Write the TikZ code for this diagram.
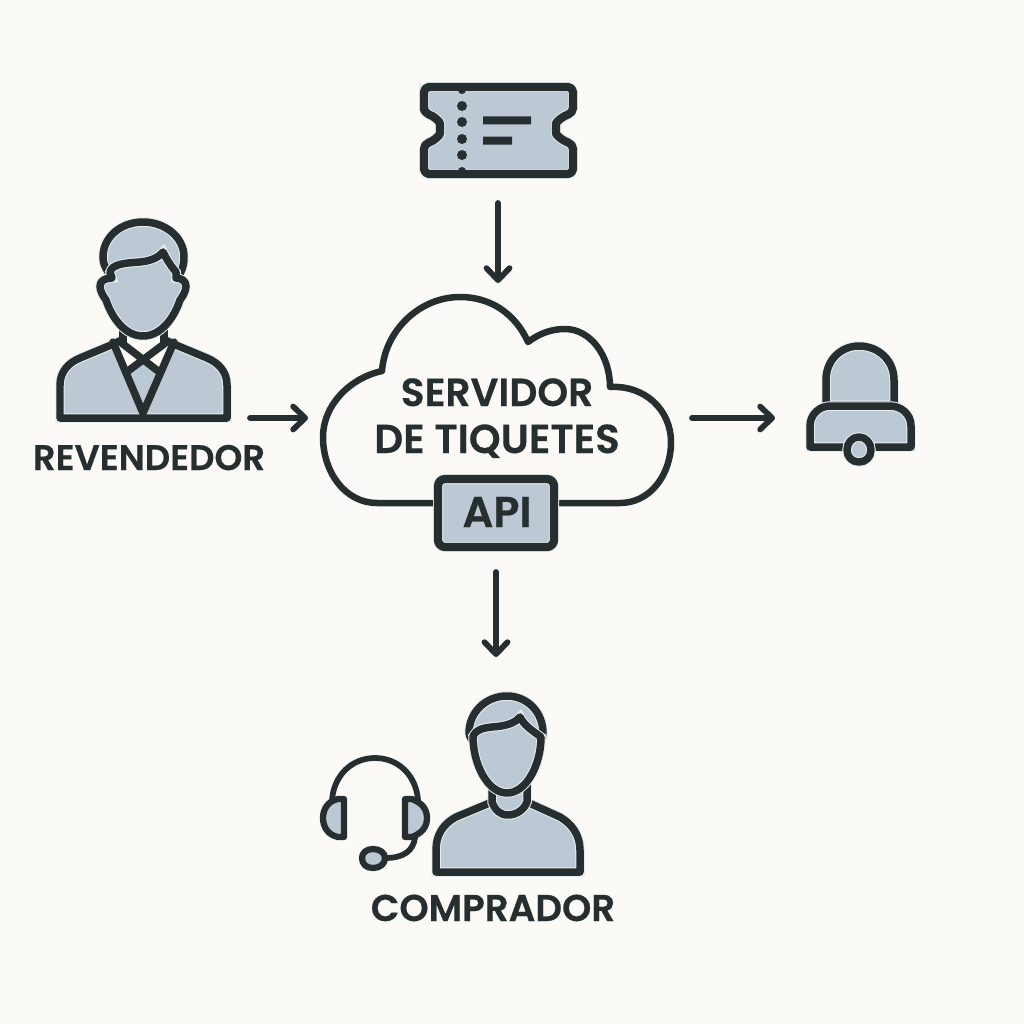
\documentclass[tikz,border=0pt]{standalone}
\usepackage{fontspec}
\setmainfont{Poppins}[BoldFont={Poppins SemiBold},BoldFeatures={FakeBold=0.5}]
\usetikzlibrary{arrows.meta}
\definecolor{bgc}{HTML}{FCFAF6}
\definecolor{ink}{HTML}{262E30}
\definecolor{slate}{HTML}{BCC8D4}
\definecolor{halo}{HTML}{E6EDF1}
\tikzset{
  shape line/.style={preaction={fill=slate},preaction={draw=halo,line width=0.19cm},draw=ink,line width=0.15cm,line join=round,line cap=round},
  heavy line/.style={preaction={fill=slate},preaction={draw=halo,line width=0.20cm},draw=ink,line width=0.165cm,line join=round,line cap=round},
  open line/.style={draw=ink,line width=0.15cm,line join=round,line cap=round},
  cloud line/.style={draw=ink,line width=0.13cm,line join=round,line cap=round},
  thin line/.style={draw=ink,line width=0.115cm,line join=round,line cap=round},
  slim shape/.style={preaction={fill=slate},draw=ink,line width=0.125cm,line join=round,line cap=round},
  bbox/.style={inner sep=0pt,outer sep=0pt},
  arr/.style={draw=ink,line width=0.115cm,line cap=round,-{Straight Barb[length=0.24cm,width=0.46cm,line cap=round,line join=round]}},
  lab/.style={text=ink,inner sep=0pt,anchor=base,align=center}
}
\begin{document}
\begin{tikzpicture}[x=0.02cm,y=-0.02cm]
\useasboundingbox (0,0) rectangle (1024,1024);
\fill[bgc] (0,0) rectangle (1024,1024);
% invisible boxes of the icons
\node[bbox,minimum width=2.98cm,minimum height=1.74cm] (ticket) at (498,130.5) {};
\node[bbox,minimum width=3.34cm,minimum height=3.92cm] (reseller) at (143.5,320) {};
\node[bbox,minimum width=7cm,minimum height=4.84cm] (cloud) at (498,418) {};
\node[bbox,minimum width=2.02cm,minimum height=2.88cm] (bell) at (860.5,418) {};
\node[bbox,minimum width=2.92cm,minimum height=3.52cm] (buyer) at (507,784) {};
% ticket
\path[heavy line,rounded corners=0.1cm] (424,113) -- (424,87) -- (573,87) -- (573,113)
  .. controls (563,116) and (556,122) .. (556,128.5) .. controls (556,135) and (563,141) .. (573,144)
  -- (573,174) -- (424,174) -- (424,144)
  .. controls (434,141) and (440,135) .. (440,128.5) .. controls (440,122) and (434,116) .. (424,113) -- cycle;
\fill[ink] (462,90) circle[radius=4] (462,171) circle[radius=4];
\fill[ink] (462,106) circle[radius=5] (462,122) circle[radius=5] (462,139) circle[radius=5] (462,155) circle[radius=5];
\fill[ink] (483,116.5) rectangle (531,124.5) (483,136.5) rectangle (512,144.5);
% reseller
\path[shape line] (60,418) -- (60,385) .. controls (60,372) and (68,363) .. (80,358) -- (123,340) -- (143,356) -- (164,340) -- (207,358) .. controls (219,363) and (227,372) .. (227,385) -- (227,418) -- cycle;
\fill[bgc] (113,345) -- (123,337) -- (164,337) -- (174,345) -- (143,358) -- cycle;
\fill[bgc] (113,345) -- (143,358) -- (127,368) -- cycle (174,345) -- (143,358) -- (159,368) -- cycle;
\draw[open line] (123,327) -- (123,341) (164,327) -- (164,341);
\draw[open line] (113,342) -- (143,413) -- (174,342);
\draw[open line] (119,341) -- (158,371) (168,341) -- (128,371);
\path[shape line] (108,272) .. controls (105,267) and (103,263) .. (103,257) .. controls (103,237) and (121,222) .. (143,222) .. controls (165,222) and (184,237) .. (184,257) .. controls (184,263) and (183,268) .. (180,274) -- cycle;
\path[shape line] (112,278) .. controls (105,278) and (100,281) .. (100,286) .. controls (100,291) and (103,296) .. (106,300) .. controls (112,318) and (125,336) .. (143,336) .. controls (161,336) and (174,318) .. (180,300) .. controls (183,296) and (186,291) .. (186,286) .. controls (186,281) and (181,278) .. (176,278) -- (176,272) .. controls (170,265) and (166,258) .. (163,252) .. controls (158,258) and (150,261) .. (140,262) .. controls (125,263) and (112,264) .. (110,272) -- cycle;
% cloud
\draw[cloud line] (437,503) -- (377,503) .. controls (345,503) and (323,472) .. (323,437) .. controls (323,405) and (350,378) .. (382,371)
  .. controls (385,330) and (420,297) .. (460,297) .. controls (490,297) and (515,313) .. (528,342)
  .. controls (540,333) and (552,329) .. (565,329) .. controls (590,329) and (610,355) .. (610,387)
  .. controls (645,385) and (671,410) .. (671,442) .. controls (671,475) and (650,503) .. (620,503) -- (558,503);
\path[heavy line,rounded corners=0.14cm] (438,479) rectangle (554,547);
\node[lab,font=\bfseries\fontsize{22.3pt}{22pt}\selectfont] (srv1) at (497,406) {SERVIDOR};
\node[lab,font=\bfseries\fontsize{23pt}{23pt}\selectfont] (srv2) at (497,453) {DE TIQUETES};
\node[lab,font=\bfseries\fontsize{24.5pt}{24pt}\selectfont] (api) at (497,527) {API};
% bell
\path[shape line] (826,405) -- (826,380) .. controls (826,360) and (841,346) .. (859,346) .. controls (878,346) and (894,360) .. (894,380) -- (894,405) -- cycle;
\path[shape line] (810,447) -- (810,426) .. controls (810,414) and (820,406) .. (830,406) -- (890,406) .. controls (901,406) and (911,414) .. (911,426) -- (911,447) -- cycle;
\path[shape line] (859,437) .. controls (866,437) and (871,443) .. (871,450) .. controls (871,457) and (866,462) .. (859,462) .. controls (852,462) and (847,457) .. (847,450) .. controls (847,443) and (852,437) .. (859,437) -- cycle;
% buyer
\path[shape line] (436,872) -- (436,850) .. controls (436,835) and (443,824) .. (456,817) -- (492,802) -- (527,802) -- (560,817) .. controls (572,824) and (580,835) .. (580,850) -- (580,872) -- cycle;
\path[shape line] (492,785) -- (492,802) .. controls (495,810) and (500,815) .. (508,815) .. controls (516,815) and (524,810) .. (527,802) -- (527,785) -- cycle;
\path[shape line] (472,740) .. controls (470,737) and (469,735) .. (469,733) .. controls (469,712) and (486,696) .. (507,696) .. controls (527,696) and (543,712) .. (543,733) .. controls (543,736) and (542,738) .. (541,740) -- cycle;
\path[shape line] (473,736) .. controls (476,730) and (482,728) .. (492,727) .. controls (505,726) and (514,724) .. (520,717) .. controls (524,725) and (530,729) .. (541,737) .. controls (541,765) and (526,793) .. (507,793) .. controls (488,793) and (473,765) .. (473,736) -- cycle;
% headset
\draw[thin line] (332,800) .. controls (334,775) and (352,758) .. (375,758) .. controls (398,758) and (416,775) .. (418,800);
\path[slim shape] (344,799) -- (344,837) -- (338,837) .. controls (328,835) and (323,827) .. (323,818) .. controls (323,809) and (328,801) .. (338,799) -- cycle;
\path[slim shape] (405,799) -- (405,837) -- (412,837) .. controls (422,833) and (427,827) .. (427,818) .. controls (427,809) and (422,803) .. (412,799) -- cycle;
\draw[thin line] (415,838) .. controls (413,850) and (405,858) .. (385,858);
\path[slim shape] (373,849) .. controls (380,849) and (385,853) .. (385,858) .. controls (385,864) and (380,868) .. (373,868) .. controls (366,868) and (362,864) .. (362,858) .. controls (362,853) and (366,849) .. (373,849) -- cycle;
% labels
\node[lab,font=\bfseries\fontsize{20.2pt}{20pt}\selectfont] (reslab) at (149,470) {REVENDEDOR};
\node[lab,font=\bfseries\fontsize{21.2pt}{21pt}\selectfont] (buylab) at (493,921) {COMPRADOR};
% connectors
\draw[arr,shorten <=0.58cm,shorten >=0.28cm] (ticket.south) -- (cloud.north);
\draw[arr,shorten <=0.46cm,shorten >=0.30cm] (reseller.south east) -- (cloud.west);
\draw[arr,shorten <=0.38cm,shorten >=0.70cm] (cloud.east) -- (bell.west);
\draw[arr,shorten <=0.66cm,shorten >=0.78cm] ([xshift=-0.04cm]cloud.south) -- ([xshift=-0.04cm]cloud.south |- buyer.north);
\end{tikzpicture}
\end{document}
